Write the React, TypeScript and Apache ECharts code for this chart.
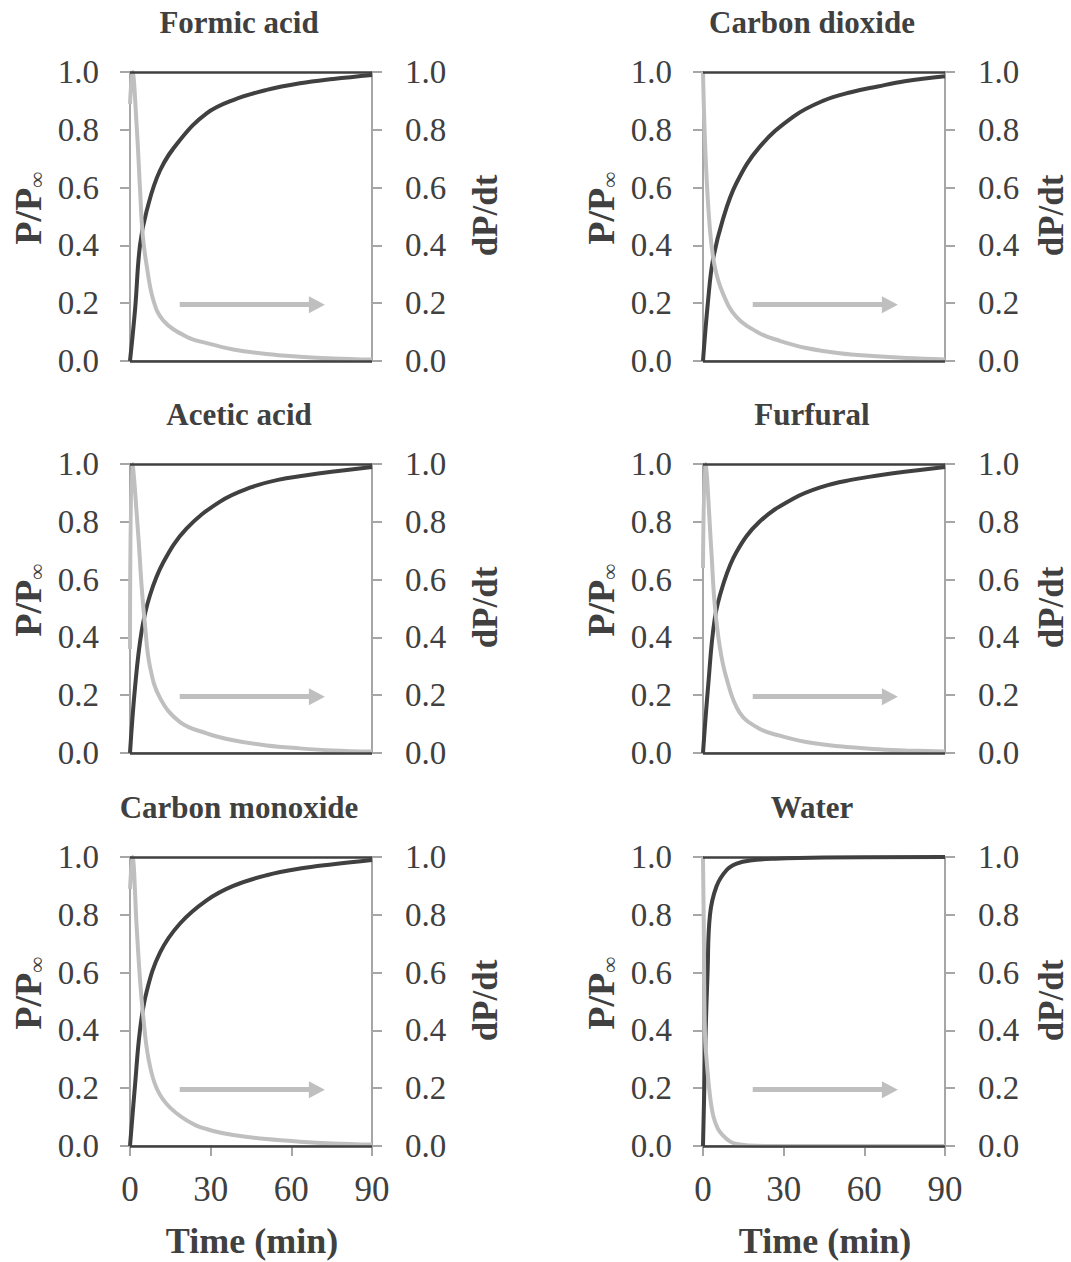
import React, { useEffect, useRef } from "react";
import * as echarts from "echarts";

// ---- data ----
const panelNames = ["Formic acid", "Carbon dioxide", "Acetic acid", "Furfural", "Carbon monoxide", "Water"];
const xTicks = [0, 30, 60, 90];
const yTicks = [0, 0.2, 0.4, 0.6, 0.8, 1.0];

// P/P∞ (dark, left axis): [time min, value]
const formicP = [[0,0],[1.9,0.18],[3.7,0.40],[6.2,0.52],[11.2,0.66],[18.6,0.765],[28.5,0.857],[38.4,0.903],[50.8,0.938],[63.2,0.961],[75.6,0.976],[90,0.99]];
const co2P = [[0,0],[1.9,0.21],[3.7,0.35],[7.4,0.49],[12.4,0.615],[21,0.74],[33.5,0.845],[44.6,0.90],[55,0.93],[65,0.95],[75,0.968],[90,0.985]];
const aceticP = [[0,0],[1.9,0.23],[4.3,0.42],[7.4,0.545],[12.4,0.66],[21,0.776],[33.5,0.87],[44.6,0.918],[55,0.945],[65,0.96],[75,0.973],[90,0.99]];
const furfuralP = [[0,0],[1.9,0.23],[4.3,0.46],[7.4,0.58],[12.4,0.695],[21,0.80],[33.5,0.88],[44.6,0.922],[55,0.945],[65,0.96],[75,0.973],[90,0.99]];
const coP = [[0,0],[1.9,0.214],[3.7,0.40],[6.2,0.535],[11.2,0.67],[18.6,0.77],[28.5,0.85],[38.4,0.90],[50.8,0.937],[63.2,0.96],[75.6,0.975],[90,0.99]];
const waterP = [[0,0],[1.0,0.40],[1.7,0.60],[2.6,0.80],[5,0.898],[8.8,0.955],[12.5,0.977],[17.5,0.988],[26.8,0.994],[45,0.998],[90,1.0]];

// dP/dt (light grey, right axis)
const formicR = [[0,0.89],[0.9,1.0],[2.5,0.81],[3.7,0.60],[4.7,0.44],[6.2,0.33],[8.7,0.21],[12.4,0.14],[21,0.084],[28.5,0.062],[38.4,0.04],[50.8,0.024],[63.2,0.015],[75.6,0.009],[90,0.005]];
const co2R = [[0,1.0],[1.0,0.70],[2.5,0.465],[4.3,0.33],[7.4,0.234],[12.4,0.153],[21,0.096],[28.5,0.07],[38.4,0.045],[50.8,0.027],[63.2,0.017],[75.6,0.01],[90,0.005]];
const aceticR = [[0,0.36],[0.9,1.0],[3.1,0.75],[4.3,0.58],[5.6,0.44],[7.4,0.30],[11.2,0.19],[18.6,0.107],[28.5,0.068],[38.4,0.044],[50.8,0.026],[63.2,0.016],[75.6,0.009],[90,0.005]];
const furfuralR = [[0,0.64],[0.9,1.0],[3.1,0.70],[4.3,0.52],[6.2,0.37],[8.7,0.26],[13.6,0.14],[21,0.084],[28.5,0.06],[38.4,0.038],[50.8,0.023],[63.2,0.014],[75.6,0.009],[90,0.005]];
const coR = [[0,0.89],[0.9,1.0],[2.5,0.754],[3.7,0.58],[4.95,0.445],[6.8,0.306],[9.9,0.20],[14.9,0.133],[23.5,0.076],[31,0.052],[38.4,0.038],[50.8,0.024],[63.2,0.015],[75.6,0.009],[90,0.005]];
const waterR = [[0,1.0],[0.3,0.75],[0.7,0.40],[1.4,0.29],[2.6,0.173],[3.8,0.105],[5.5,0.06],[7.5,0.036],[10,0.016],[12.5,0.007],[17,0.002],[25,0],[90,0]];

const pSeries = [formicP, co2P, aceticP, furfuralP, coP, waterP];
const rSeries = [formicR, co2R, aceticR, furfuralR, coR, waterR];

// arrow pointing to the right axis: [startTime, endTime, level]
const arrowSpec = [18.5, 69.5, 0.195];

// ---- styles ----
const FONT = "Liberation Serif, Times New Roman, serif";
const DARK = "#404040";
const LIGHT = "#bfbfbf";
const AXIS = "#a6a6a6";
const TEXT = "#404040";

const gridLefts = [130, 703];
const gridTops = [72, 464, 857];
const GW = 242;
const GH = 289;

function buildOption() {
  const grid: any[] = [];
  const xAxis: any[] = [];
  const yAxis: any[] = [];
  const series: any[] = [];
  const graphic: any[] = [];

  for (let i = 0; i < 6; i++) {
    const col = i % 2;
    const row = Math.floor(i / 2);
    const left = gridLefts[col];
    const top = gridTops[row];
    const bottomRow = row === 2;
    grid.push({ left, top, width: GW, height: GH, containLabel: false });
    xAxis.push({
      type: "value",
      gridIndex: i,
      min: xTicks[0],
      max: xTicks[xTicks.length - 1],
      interval: 30,
      axisLine: { show: true, lineStyle: { color: AXIS, width: 2 } },
      axisTick: { show: bottomRow, inside: false, length: 10, lineStyle: { color: AXIS, width: 2 } },
      axisLabel: {
        show: bottomRow,
        margin: 26,
        color: TEXT,
        fontFamily: FONT,
        fontSize: 35,
      },
      splitLine: { show: false },
    });
    const yCommon = {
      type: "value",
      gridIndex: i,
      min: yTicks[0],
      max: yTicks[yTicks.length - 1],
      interval: 0.2,
      splitLine: { show: false },
      axisLine: { show: true, onZero: false, lineStyle: { color: AXIS, width: 2 } },
      axisTick: { show: true, inside: false, length: 10, lineStyle: { color: AXIS, width: 2 } },
    };
    yAxis.push({
      ...yCommon,
      position: "left",
      axisLabel: {
        margin: 31,
        color: TEXT,
        fontFamily: FONT,
        fontSize: 33,
        formatter: (v: number) => v.toFixed(1),
      },
    });
    yAxis.push({
      ...yCommon,
      position: "right",
      axisLabel: {
        margin: 33,
        color: TEXT,
        fontFamily: FONT,
        fontSize: 33,
        formatter: (v: number) => v.toFixed(1),
      },
    });

    series.push({
      type: "line",
      xAxisIndex: i,
      yAxisIndex: i * 2,
      data: pSeries[i],
      smooth: 0.4,
      showSymbol: false,
      symbol: "none",
      lineStyle: { color: DARK, width: 4 },
      z: 3,
      silent: true,
      markLine: {
        silent: true,
        symbol: "none",
        label: { show: false },
        lineStyle: { color: DARK, width: 2.5, type: "solid" },
        data: [{ yAxis: 1 }, { yAxis: 0 }],
      },
    });
    series.push({
      type: "line",
      xAxisIndex: i,
      yAxisIndex: i * 2 + 1,
      data: rSeries[i],
      smooth: 0.4,
      showSymbol: false,
      symbol: "none",
      lineStyle: { color: LIGHT, width: 4 },
      z: 4,
      silent: true,
      markLine: {
        silent: true,
        symbol: ["none", "triangle"],
        symbolSize: [17, 16],
        label: { show: false },
        lineStyle: { color: LIGHT, width: 5, type: "solid" },
        data: [
          [
            { coord: [arrowSpec[0], arrowSpec[2]] },
            { coord: [arrowSpec[1], arrowSpec[2]] },
          ],
        ],
      },
    });

    const cx = left + GW / 2;
    const cy = top + GH / 2;
    graphic.push({
      type: "text",
      x: cx - 12,
      y: top - 50,
      style: {
        text: panelNames[i],
        fontFamily: FONT,
        fontWeight: "bold",
        fontSize: 31,
        fill: TEXT,
        align: "center",
        verticalAlign: "middle",
      },
    });
    graphic.push({
      type: "text",
      x: left - 102,
      y: cy - 8,
      rotation: Math.PI / 2,
      style: {
        text: "{a|P/P}{b|∞}",
        rich: {
          a: { fontFamily: FONT, fontWeight: "bold", fontSize: 38, fill: TEXT },
          b: { fontFamily: FONT, fontWeight: "bold", fontSize: 22, fill: TEXT, padding: [16, 0, 0, 0] },
        },
        align: "center",
        verticalAlign: "middle",
      },
    });
    graphic.push({
      type: "text",
      x: col === 0 ? left + GW + 113 : left + GW + 106,
      y: cy - 1,
      rotation: Math.PI / 2,
      style: {
        text: "dP/dt",
        fontFamily: FONT,
        fontWeight: "bold",
        fontSize: 35,
        fill: TEXT,
        align: "center",
        verticalAlign: "middle",
      },
    });
    if (bottomRow) {
      graphic.push({
        type: "text",
        x: cx + 1,
        y: top + GH + 95,
        style: {
          text: "Time (min)",
          fontFamily: FONT,
          fontWeight: "bold",
          fontSize: 36,
          fill: TEXT,
          align: "center",
          verticalAlign: "middle",
        },
      });
    }
  }

  return {
    animation: false,
    backgroundColor: "#ffffff",
    grid,
    xAxis,
    yAxis,
    series,
    graphic,
  };
}

export default function App() {
  const ref = useRef<HTMLDivElement>(null);
  useEffect(() => {
    if (!ref.current) return;
    const chart = echarts.init(ref.current, undefined, { renderer: "svg", width: 1071, height: 1262 });
    chart.setOption(buildOption() as any);
    return () => {
      chart.dispose();
    };
  }, []);
  return (
    <div
      ref={ref}
      style={{ position: "absolute", left: 0, top: 0, width: 1071, height: 1262, background: "#fff" }}
    />
  );
}
